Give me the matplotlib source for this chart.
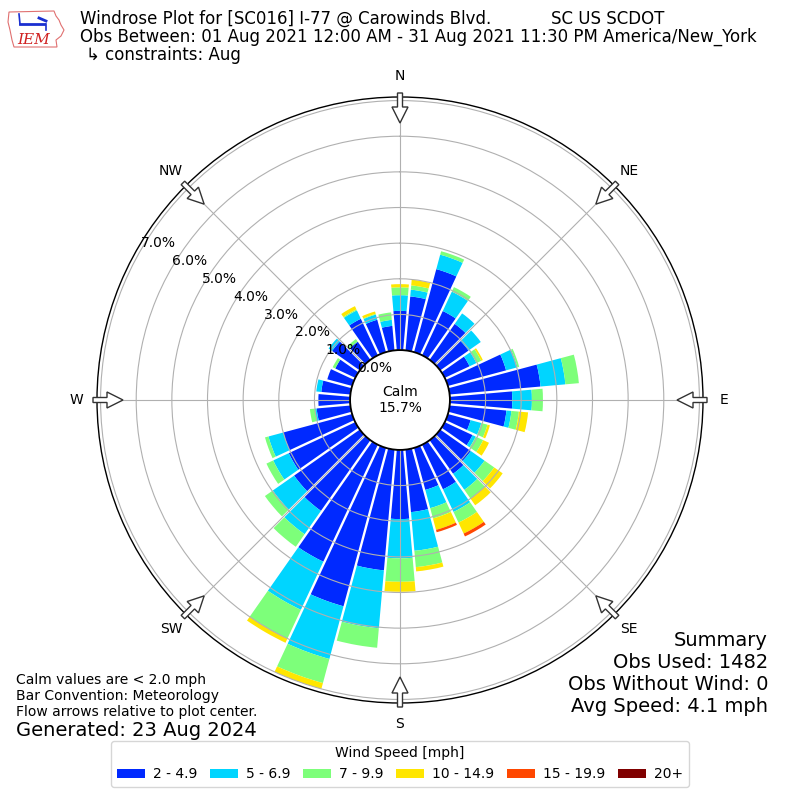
import numpy as np
import matplotlib
matplotlib.use("Agg")
import matplotlib.pyplot as plt
from matplotlib.patches import Circle, FancyArrow, Patch, Polygon

# ---------------- data (percent of observations) ----------------
directions = list(range(0, 360, 10))
speed_labels = ["2 - 4.9", "5 - 6.9", "7 - 9.9", "10 - 14.9", "15 - 19.9", "20+"]
spd_2_5 = [1.10, 1.52, 2.41, 1.37, 1.23, 0.97, 0.77, 1.69, 2.56, 1.75, 1.60, 0.66,
           0.86, 1.05, 1.15, 1.38, 1.22, 1.76, 1.94, 3.40, 4.60, 3.62, 2.42, 2.25,
           2.06, 2.00, 0.95, 0.89, 0.82, 0.72, 0.62, 0.95, 0.62, 1.13, 0.94, 0.69]
spd_5_7 = [0.44, 0.19, 0.42, 0.60, 0.36, 0.42, 0.21, 0.33, 0.70, 0.55, 0.14, 0.31,
           0.10, 0.47, 0.55, 0.70, 0.53, 1.09, 1.10, 1.63, 1.53, 1.49, 0.80, 0.73,
           0.48, 0.43, 0.05, 0.00, 0.14, 0.00, 0.00, 0.12, 0.00, 0.26, 0.15, 0.17]
spd_7_10 = [0.22, 0.12, 0.10, 0.14, 0.00, 0.00, 0.15, 0.05, 0.38, 0.31, 0.21, 0.18,
            0.23, 0.33, 0.30, 0.33, 0.30, 0.46, 0.66, 0.55, 0.70, 0.89, 0.43, 0.27,
            0.21, 0.10, 0.14, 0.00, 0.00, 0.00, 0.08, 0.00, 0.09, 0.03, 0.02, 0.21]
spd_10_15 = [0.09, 0.16, 0.00, 0.00, 0.00, 0.00, 0.05, 0.00, 0.00, 0.00, 0.26, 0.07,
             0.18, 0.29, 0.23, 0.34, 0.33, 0.12, 0.28, 0.00, 0.17, 0.13, 0.00, 0.00,
             0.00, 0.00, 0.00, 0.00, 0.00, 0.00, 0.00, 0.00, 0.00, 0.10, 0.07, 0.00]
spd_15_20 = [0.00] * 15 + [0.09, 0.07] + [0.00] * 19
spd_20p = [0.00] * 36
calm_pct = 15.7
ring_ticks = [0, 1, 2, 3, 4, 5, 6, 7]
compass = ["N", "NE", "E", "SE", "S", "SW", "W", "NW"]

series = [spd_2_5, spd_5_7, spd_7_10, spd_10_15, spd_15_20, spd_20p]
colors = plt.cm.jet(np.linspace(0, 1, 7)[1:])

# ---------------- figure ----------------
fig = plt.figure(figsize=(8, 8), dpi=100)
W = 800.0
ax_px = 606.0
ax = fig.add_axes([97 / W, 97 / W, ax_px / W, ax_px / W], projection="polar")
ax.set_theta_zero_location("N")
ax.set_theta_direction(-1)
rorigin = -1.40
rmax = 7.10

theta = np.deg2rad(directions)
width = np.deg2rad(10)
bottom = np.zeros(len(directions))
for vals, c in zip(series, colors):
    v = np.array(vals)
    ax.bar(theta, v, width=width, bottom=bottom, color=c, edgecolor="none",
           linewidth=0, zorder=1)
    bottom = bottom + v
totals = bottom

# white separators between adjacent direction bars
n = len(directions)
for k in range(n):
    th = np.deg2rad(directions[k] - 5)
    top = max(totals[k], totals[k - 1]) + 0.05
    ax.plot([th, th], [0, top], color="white", lw=1.7, zorder=1.5,
            solid_capstyle="butt")

ax.set_rorigin(rorigin)
ax.set_ylim(0, rmax)
ax.set_axisbelow(False)
ax.set_xticks(np.deg2rad(np.arange(0, 360, 45)))
ax.set_xticklabels([])
ax.set_yticks(ring_ticks)
ax.set_yticklabels([])
ax.grid(True, color="#b0b0b0", lw=0.8, zorder=2.5)
for gl in ax.xaxis.get_gridlines() + ax.yaxis.get_gridlines():
    gl.set_zorder(2.5)
ax.spines["polar"].set_linewidth(1.0)

# radial labels
for t in ring_ticks:
    ax.text(np.deg2rad(300), t, f"{t:.1f}%", ha="left", va="bottom",
            fontsize=10, zorder=7)

# calm circle
pxu = (ax_px / 2) / (rmax - rorigin)  # px per unit
calm_r = (0 - rorigin) * pxu / ax_px
ax.add_patch(Circle((0.5, 0.5), calm_r, transform=ax.transAxes, facecolor="white",
                    edgecolor="black", lw=1.3, zorder=5, clip_on=False))
ax.text(0.5, 0.5, f"Calm\n{calm_pct:.1f}%", transform=ax.transAxes, ha="center",
        va="center", fontsize=10, zorder=6, linespacing=1.2)

# compass labels and flow arrows
r_lab = 324.0 / pxu + rorigin
for i, lab in enumerate(compass):
    b = np.deg2rad(i * 45)
    ax.text(b, r_lab, lab, ha="center", va="center", fontsize=10, clip_on=False)
    ux, uy = np.sin(b), np.cos(b)
    s = 307.0 / ax_px
    L = 30.0 / ax_px
    arr = FancyArrow(0.5 + s * ux, 0.5 + s * uy, -L * ux, -L * uy,
                     width=5.0 / ax_px, head_width=16.0 / ax_px,
                     head_length=16.0 / ax_px, length_includes_head=True,
                     transform=ax.transAxes, facecolor="white", edgecolor="#333333",
                     lw=1.0, clip_on=False, zorder=8)
    ax.add_patch(arr)

# ---------------- titles ----------------
def fy(px):
    return 1 - px / W

fig.text(80 / W, fy(19), "Windrose Plot for [SC016] I-77 @ Carowinds Blvd.",
         fontsize=12, va="center", ha="left")
fig.text(551 / W, fy(19), "SC US SCDOT", fontsize=12, va="center", ha="left")
fig.text(80 / W, fy(37),
         "Obs Between: 01 Aug 2021 12:00 AM - 31 Aug 2021 11:30 PM America/New_York",
         fontsize=12, va="center", ha="left")
fig.text(86 / W, fy(55), "\u21b3 constraints: Aug", fontsize=12, va="center", ha="left")

# logo approximation
lax = fig.add_axes([6 / W, fy(52), 60 / W, 46 / W])
lax.set_xlim(0, 60)
lax.set_ylim(0, 46)
lax.axis("off")
iowa = [(3, 40), (48, 41), (50, 36), (53, 32), (55, 27), (58, 22), (55, 16),
        (50, 12), (51, 5), (8, 5), (6, 12), (4, 22), (2, 30)]
lax.add_patch(Polygon(iowa, closed=True, facecolor="white", edgecolor="#e07070", lw=0.8))
lax.plot([14, 38], [28, 28], color="#1a2fd0", lw=2)
lax.plot([14, 13], [28, 38], color="#1a2fd0", lw=1.2)
lax.plot([33, 40], [34, 31], color="#1a2fd0", lw=2)
lax.plot([40, 40], [28, 22], color="#1a2fd0", lw=1.2)
lax.text(28, 12, "IEM", color="#d02020", fontsize=11, family="DejaVu Serif",
         style="italic", ha="center", va="center")

# ---------------- footer texts ----------------
fig.text(16 / W, fy(680), "Calm values are < 2.0 mph", fontsize=10, va="center")
fig.text(16 / W, fy(696), "Bar Convention: Meteorology", fontsize=10, va="center")
fig.text(16 / W, fy(712), "Flow arrows relative to plot center.", fontsize=10, va="center")
fig.text(16 / W, fy(730), "Generated: 23 Aug 2024", fontsize=14, va="center")

fig.text(768 / W, fy(640), "Summary", fontsize=14, va="center", ha="right")
fig.text(768 / W, fy(662), "Obs Used: 1482", fontsize=14, va="center", ha="right")
fig.text(768 / W, fy(684), "Obs Without Wind: 0", fontsize=14, va="center", ha="right")
fig.text(768 / W, fy(706), "Avg Speed: 4.1 mph", fontsize=14, va="center", ha="right")

# ---------------- legend ----------------
handles = [Patch(facecolor=c, edgecolor="none") for c in colors]
fig.legend(handles, speed_labels, title="Wind Speed [mph]", ncol=6,
           loc="lower center", bbox_to_anchor=(0.5, 13 / W), borderaxespad=0,
           fontsize=10, title_fontsize=10, frameon=True,
           columnspacing=0.9, handletextpad=0.6)

fig.savefig("out.png", dpi=100)
